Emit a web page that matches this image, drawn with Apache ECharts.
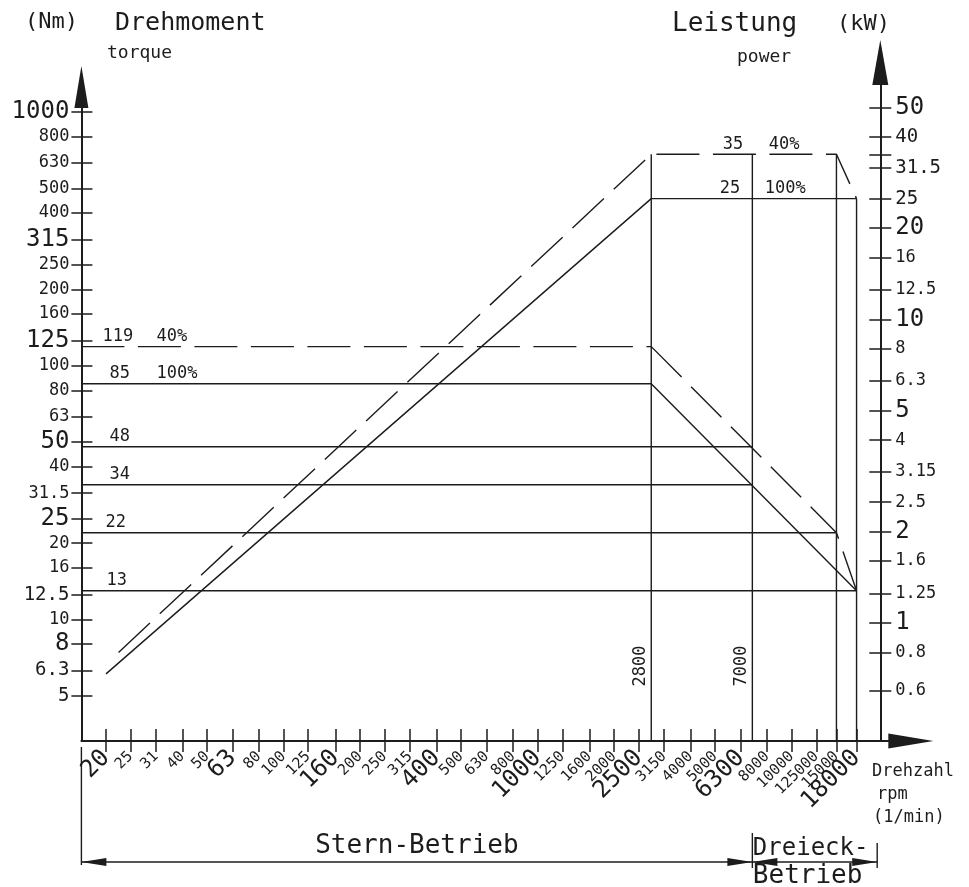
<!DOCTYPE html>
<html>
<head>
<meta charset="utf-8">
<title>Drehmoment / Leistung</title>
<script src="https://cdn.jsdelivr.net/npm/echarts@6/dist/echarts.min.js"></script>
<style>
  html, body { margin: 0; padding: 0; background: #fff; }
  #chart { width: 969px; height: 887px; }
</style>
</head>
<body>
<div id="chart"></div>
<script>
// ---- speed axis (rpm) ----
const rpmTicks = [20, 25, 31.5, 40, 50, 63, 80, 100, 125, 160, 200, 250, 315, 400, 500, 630, 800,
  1000, 1250, 1600, 2000, 2500, 3150, 4000, 5000, 6300, 8000, 10000, 12500, 15000, 18000];
const rpmLabels = ['20', '25', '31', '40', '50', '63', '80', '100', '125', '160', '200', '250', '315',
  '400', '500', '630', '800', '1000', '1250', '1600', '2000', '2500', '3150', '4000', '5000', '6300',
  '8000', '10000', '125000', '15000', '18000'];
const rpmLabelsLarge = ['20', '63', '160', '400', '1000', '2500', '6300', '18000'];

// ---- torque axis (Nm) ----
const torqueTicks = [5, 6.3, 8, 10, 12.5, 16, 20, 25, 31.5, 40, 50, 63, 80, 100, 125, 160, 200,
  250, 315, 400, 500, 630, 800, 1000];
const torqueLabelsLarge = [8, 25, 50, 125, 315, 1000];
const torqueLabelsMedium = [5, 6.3, 12.5];

// ---- power axis (kW) ----
const powerTicks = [0.6, 0.8, 1, 1.25, 1.6, 2, 2.5, 3.15, 4, 5, 6.3, 8, 10, 12.5, 16, 20, 25,
  31.5, 35, 40, 50];
const powerLabelValues = [0.6, 0.8, 1, 1.25, 1.6, 2, 2.5, 3.15, 4, 5, 6.3, 8, 10, 12.5, 16, 20, 25,
  31.5, 40, 50];
const powerLabelsLarge = [1, 2, 5, 10, 20, 50];
const powerLabelsMedium = [25, 31.5, 40];

// ---- axis ranges ----
const RPM_MIN = 16, RPM_MAX = 24000;
const T_MIN = 3.324, T_MAX = 1036.9;
const P_MIN = 0.4086, P_MAX = 59.2;

// ---- torque curves [rpm, Nm] ----
const torqueRated = 85;      // 100 %
const torqueShort = 119;     // 40 %
const torque100Curve = [[2800, 85], [18000, 13]];
const torque40Curve = [[2800, 119], [15000, 22], [18000, 13]];
const torqueLevels = [48, 34, 22, 13];
const torqueLevelEnds = [7000, 7000, 15000, 18000];

// ---- power curves [rpm, kW] ----
const power100Curve = [[20, 0.68], [2800, 25], [18000, 25]];
const power40Curve = [[22.4, 0.8], [2800, 35], [15000, 35], [18000, 25]];

// ---- characteristic speeds (vertical lines) ----
const speedMarks = [2800, 7000, 15000, 18000];
const speedMarkTops = [35, 35, 35, 25];     // kW level where each line starts
const speedMarkLabels = ['2800', '7000'];

// ---- operating ranges ----
const starRange = [RPM_MIN, 7000];
const deltaRange = [7000, 21700];

const INK = '#1c1c1c';
const FONT = '"DejaVu Sans Mono", "Liberation Mono", monospace';
const LINE_W = 1.4;
const DASH = [43, 13.5];

const GRID_LEFT = 81.4, GRID_W = 806.9;

function nearestIndex(arr, v) {
  let best = 0;
  for (let i = 1; i < arr.length; i++) {
    if (Math.abs(Math.log(arr[i] / v)) < Math.abs(Math.log(arr[best] / v))) best = i;
  }
  return best;
}
const richSizes = {
  s: { fontSize: 17, fontFamily: FONT, color: INK },
  m: { fontSize: 19, fontFamily: FONT, color: INK },
  b: { fontSize: 24, fontFamily: FONT, color: INK },
  xs: { fontSize: 15, fontFamily: FONT, color: INK }
};

function rpmFormatter(v) {
  const t = rpmLabels[nearestIndex(rpmTicks, v)];
  return rpmLabelsLarge.indexOf(t) >= 0 ? '{b|' + t + '}' : '{xs|' + t + '}';
}
function torqueFormatter(v) {
  const t = torqueTicks[nearestIndex(torqueTicks, v)];
  const key = torqueLabelsLarge.indexOf(t) >= 0 ? 'b' : (torqueLabelsMedium.indexOf(t) >= 0 ? 'm' : 's');
  return '{' + key + '|' + t + '}';
}
function powerFormatter(v) {
  const t = powerLabelValues[nearestIndex(powerLabelValues, v)];
  const key = powerLabelsLarge.indexOf(t) >= 0 ? 'b' : (powerLabelsMedium.indexOf(t) >= 0 ? 'm' : 's');
  return '{' + key + '|' + t + '}';
}

const tickStyle = { color: INK, width: 1.5 };
const axisLineStyle = { color: INK, width: 2 };

function lineSeries(data, xi, yi, dashed) {
  return {
    type: 'line', xAxisIndex: xi, yAxisIndex: yi, data: data,
    symbol: 'none', silent: true, animation: false, clip: false,
    lineStyle: { color: INK, width: LINE_W, type: dashed ? DASH : 'solid', cap: 'butt' }
  };
}

// text tags sitting on the curves
function tagSeries(xi, yi, items) {
  return {
    type: 'scatter', xAxisIndex: xi, yAxisIndex: yi, symbolSize: 1, silent: true,
    itemStyle: { color: 'transparent', opacity: 1 }, animation: false, clip: false,
    label: { show: true, color: INK, opacity: 1, fontFamily: FONT, fontSize: 17, align: 'left', verticalAlign: 'bottom' },
    data: items
  };
}

// x axis indices: 0 line + outer ticks, 1 inner ticks, 2/3 labels, 4 power grid, 5 range band
const X_POWER = 4, X_BAND = 5;

const series = [];

// torque: rated (100 %) and short-time (40 %)
series.push(lineSeries([[RPM_MIN, torqueRated]].concat(torque100Curve), 0, 0, false));
series.push(lineSeries([[RPM_MIN, torqueShort], torque40Curve[0]], 0, 0, true));
series.push(lineSeries(torque40Curve, 0, 0, true));
torqueLevels.forEach(function (lv, i) {
  series.push(lineSeries([[RPM_MIN, lv], [torqueLevelEnds[i], lv]], 0, 0, false));
});

// power curves
series.push(lineSeries(power100Curve, X_POWER, 2, false));
series.push(lineSeries(power40Curve, X_POWER, 2, true));
speedMarks.forEach(function (n, i) {
  series.push(lineSeries([[n, speedMarkTops[i]], [n, P_MIN]], X_POWER, 2, false));
});

// tags on torque lines
const torqueTagLayout = [
  { text: String(torqueShort), level: torqueShort, dx: 21.6 },
  { text: '40%', level: torqueShort, dx: 75.6 },
  { text: String(torqueRated), level: torqueRated, dx: 28.6 },
  { text: '100%', level: torqueRated, dx: 75.6 },
  { text: String(torqueLevels[0]), level: torqueLevels[0], dx: 28.6 },
  { text: String(torqueLevels[1]), level: torqueLevels[1], dx: 28.6 },
  { text: String(torqueLevels[2]), level: torqueLevels[2], dx: 24.6 },
  { text: String(torqueLevels[3]), level: torqueLevels[3], dx: 25.6 }
];
series.push(tagSeries(0, 0, torqueTagLayout.map(function (t) {
  return { value: [RPM_MIN, t.level], label: { formatter: t.text, position: [t.dx, -1] } };
})));

// tags on power lines
const powerTagLayout = [
  { text: '35', level: 35, dx: 72 },
  { text: '40%', level: 35, dx: 118 },
  { text: '25', level: 25, dx: 69 },
  { text: '100%', level: 25, dx: 114 }
];
series.push(tagSeries(X_POWER, 2, powerTagLayout.map(function (t) {
  return { value: [power40Curve[1][0], t.level], label: { formatter: t.text, position: [t.dx, -1] } };
})));

// speed labels written along the vertical lines
series.push(tagSeries(X_POWER, 2, speedMarkLabels.map(function (t, i) {
  return { value: [speedMarks[i], P_MIN], label: { formatter: t, rotate: 90, position: [-2, -54] } };
})));

// ---- operating range dimensions (band below the speed axis) ----
const DIM_Y = 121;
function dimArrowSeries(range) {
  return {
    type: 'line', xAxisIndex: X_BAND, yAxisIndex: 4, silent: true, animation: false, clip: false,
    showSymbol: true, showAllSymbol: true,
    lineStyle: { color: INK, width: 1.5 }, itemStyle: { color: INK, opacity: 1 },
    data: [
      { value: [range[0], DIM_Y], symbol: 'triangle', symbolSize: [8, 25], symbolRotate: 90, symbolOffset: [12.5, 0] },
      { value: [range[1], DIM_Y], symbol: 'triangle', symbolSize: [8, 25], symbolRotate: -90, symbolOffset: [-12.5, 0] }
    ]
  };
}
series.push(dimArrowSeries(starRange));
series.push(dimArrowSeries(deltaRange));
// extension lines
series.push(lineSeries([[starRange[0], 6], [starRange[0], 124]], X_BAND, 4, false));
series.push(lineSeries([[deltaRange[0], 92], [deltaRange[0], 127]], X_BAND, 4, false));
series.push(lineSeries([[deltaRange[1], 102], [deltaRange[1], 127]], X_BAND, 4, false));
// range names
series.push({
  type: 'scatter', xAxisIndex: X_BAND, yAxisIndex: 4, symbolSize: 1, silent: true, animation: false,
  itemStyle: { color: 'transparent', opacity: 1 },
  label: { show: true, color: INK, opacity: 1, fontFamily: FONT, fontSize: 26 },
  data: [
    { value: [Math.sqrt(starRange[0] * starRange[1]), DIM_Y],
      label: { formatter: 'Stern-Betrieb', position: 'top', distance: 2 } },
    { value: [deltaRange[0], DIM_Y],
      label: { formatter: 'Dreieck-', fontSize: 24, align: 'left', verticalAlign: 'bottom', position: [1, -1] } },
    { value: [deltaRange[0], DIM_Y],
      label: { formatter: 'Betrieb', align: 'left', verticalAlign: 'top', position: [1, 2] } }
  ]
});

function logX(grid, extra) {
  return Object.assign({
    type: 'log', logBase: 10, gridIndex: grid, min: RPM_MIN, max: RPM_MAX,
    splitLine: { show: false }, minorTick: { show: false }, minorSplitLine: { show: false }
  }, extra);
}

// speed labels are split over two label-only axes so neighbouring rotated labels never collide
const rpmTicksEven = rpmTicks.filter(function (v, i) { return i % 2 === 0; });
const rpmTicksOdd = rpmTicks.filter(function (v, i) { return i % 2 === 1; });
function rpmLabelAxis(values) {
  return logX(0, {
    position: 'bottom',
    axisLine: { show: false }, axisTick: { show: false },
    axisLabel: { show: true, customValues: values, rotate: 45, margin: 13, formatter: rpmFormatter, rich: richSizes,
      hideOverlap: false, showMinLabel: true, showMaxLabel: true }
  });
}

const option = {
  animation: false,
  backgroundColor: '#fff',
  textStyle: { fontFamily: FONT, color: INK },
  grid: [
    { left: GRID_LEFT, top: 108, width: GRID_W, height: 633, outerBoundsMode: 'none', containLabel: false },
    { left: GRID_LEFT, top: 85, width: GRID_W, height: 656, outerBoundsMode: 'none', containLabel: false },
    { left: GRID_LEFT, top: 741, width: GRID_W, height: 146, outerBoundsMode: 'none', containLabel: false }
  ],
  xAxis: [
    logX(0, {
      position: 'bottom',
      axisLine: { show: true, lineStyle: axisLineStyle, symbol: ['none', 'triangle'], symbolSize: [15, 45], symbolOffset: [0, 22.5] },
      axisTick: { show: true, customValues: rpmTicks, length: 11, lineStyle: tickStyle },
      axisLabel: { show: false }
    }),
    logX(0, {
      position: 'bottom',
      axisLine: { show: false },
      axisTick: { show: true, inside: true, customValues: rpmTicks, length: 12, lineStyle: tickStyle },
      axisLabel: { show: false }
    }),
    rpmLabelAxis(rpmTicksEven),
    rpmLabelAxis(rpmTicksOdd),
    logX(1, { show: false }),
    logX(2, { show: false })
  ],
  yAxis: [
    {
      type: 'log', logBase: 10, gridIndex: 0, position: 'left', min: T_MIN, max: T_MAX,
      splitLine: { show: false }, minorTick: { show: false },
      axisLine: { show: true, lineStyle: axisLineStyle, symbol: ['none', 'triangle'], symbolSize: [14, 42], symbolOffset: [0, 21] },
      axisTick: { show: true, customValues: torqueTicks, length: 10, lineStyle: tickStyle },
      axisLabel: { show: true, customValues: torqueTicks, margin: 12, formatter: torqueFormatter, rich: richSizes,
        hideOverlap: false, showMinLabel: true, showMaxLabel: true }
    },
    {
      type: 'log', logBase: 10, gridIndex: 0, position: 'left', min: T_MIN, max: T_MAX,
      splitLine: { show: false }, axisLine: { show: false }, axisLabel: { show: false },
      axisTick: { show: true, inside: true, customValues: torqueTicks, length: 11, lineStyle: tickStyle }
    },
    {
      type: 'log', logBase: 10, gridIndex: 1, position: 'right', offset: -8, min: P_MIN, max: P_MAX,
      splitLine: { show: false }, minorTick: { show: false },
      axisLine: { show: true, lineStyle: axisLineStyle, symbol: ['none', 'triangle'], symbolSize: [16, 45], symbolOffset: [0, 22.5] },
      axisTick: { show: true, customValues: powerTicks, length: 11, lineStyle: tickStyle },
      axisLabel: { show: true, customValues: powerLabelValues, margin: 15, formatter: powerFormatter, rich: richSizes,
        hideOverlap: false, showMinLabel: true, showMaxLabel: true }
    },
    {
      type: 'log', logBase: 10, gridIndex: 1, position: 'right', offset: -8, min: P_MIN, max: P_MAX,
      splitLine: { show: false }, axisLine: { show: false }, axisLabel: { show: false },
      axisTick: { show: true, inside: true, customValues: powerTicks, length: 11, lineStyle: tickStyle }
    },
    { type: 'value', gridIndex: 2, min: 0, max: 146, inverse: true, show: false, splitLine: { show: false } }
  ],
  graphic: [
    { type: 'text', x: 25, y: 22, style: { text: '(Nm)', fontSize: 22, fontFamily: FONT, fill: INK, verticalAlign: 'middle' } },
    { type: 'text', x: 115, y: 23, style: { text: 'Drehmoment', fontSize: 25, fontFamily: FONT, fill: INK, verticalAlign: 'middle' } },
    { type: 'text', x: 107, y: 53, style: { text: 'torque', fontSize: 18, fontFamily: FONT, fill: INK, verticalAlign: 'middle' } },
    { type: 'text', x: 672, y: 24, style: { text: 'Leistung', fontSize: 26, fontFamily: FONT, fill: INK, verticalAlign: 'middle' } },
    { type: 'text', x: 837, y: 24, style: { text: '(kW)', fontSize: 22, fontFamily: FONT, fill: INK, verticalAlign: 'middle' } },
    { type: 'text', x: 737, y: 57, style: { text: 'power', fontSize: 18, fontFamily: FONT, fill: INK, verticalAlign: 'middle' } },
    { type: 'text', x: 872, y: 772, style: { text: 'Drehzahl', fontSize: 17, fontFamily: FONT, fill: INK, verticalAlign: 'middle' } },
    { type: 'text', x: 877, y: 795, style: { text: 'rpm', fontSize: 17, fontFamily: FONT, fill: INK, verticalAlign: 'middle' } },
    { type: 'text', x: 873, y: 818, style: { text: '(1/min)', fontSize: 17, fontFamily: FONT, fill: INK, verticalAlign: 'middle' } }
  ],
  series: series
};

const chart = echarts.init(document.getElementById('chart'), null, { renderer: 'canvas' });
chart.setOption(option);
</script>
</body>
</html>
